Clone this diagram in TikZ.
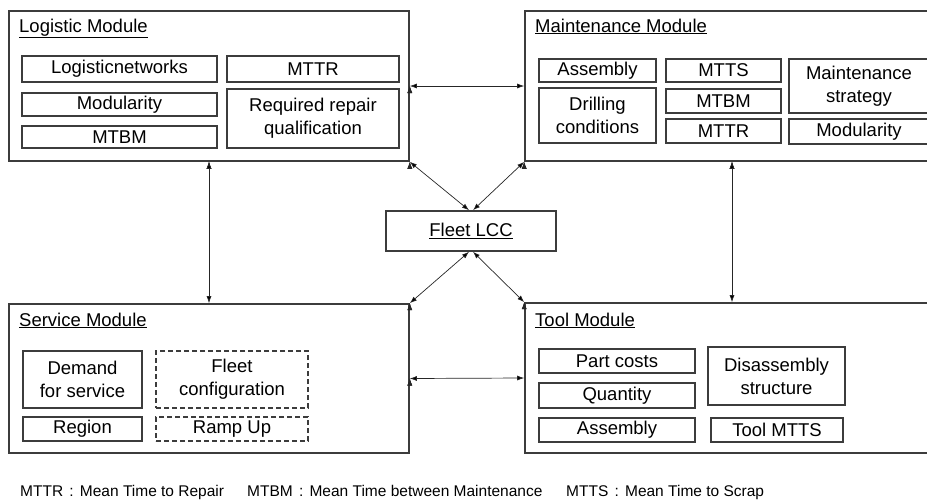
\documentclass[tikz,border=0pt]{standalone}
\usepackage{fontspec}
\setmainfont{Liberation Sans}
\usetikzlibrary{arrows.meta}
\definecolor{edgegray}{HTML}{3C3C3C}
\tikzset{
  module/.style={draw=edgegray, line width=1.6pt, inner sep=0pt},
  item/.style={draw=edgegray, line width=1.2pt, inner sep=0pt, align=center,
    font=\fontsize{18.5}{23}\selectfont},
  itemdash/.style={item, dashed, dash pattern=on 5pt off 3pt},
  title/.style={anchor=base west, inner sep=0pt, font=\fontsize{18.5}{23}\selectfont},
  note/.style={anchor=base west, inner sep=0pt, font=\fontsize{15.5}{18}\selectfont},
  link/.style={{Latex[length=7pt,width=5pt]}-{Latex[length=7pt,width=5pt]}, draw=black!85, line width=0.7pt}
}
\begin{document}
\begin{tikzpicture}[x=1pt, y=-1pt]
    \useasboundingbox (0,0) rectangle (927,499);
    \clip (0,0) rectangle (927,499);
    % modules
    \node[module, minimum width=400pt, minimum height=150pt] (log) at (209,86) {};
    \node[module, minimum width=414pt, minimum height=150pt] (mnt) at (732,86) {};
    \node[module, minimum width=400pt, minimum height=149pt] (srv) at (209,378.5) {};
    \node[module, minimum width=414pt, minimum height=150pt] (tool) at (732,378) {};
    \node[item, line width=1.6pt, minimum width=170pt, minimum height=40pt] (lcc) at (471,231) {\underline{Fleet LCC}};
    \node[title] (logt) at (19,32) {\underline{Logistic Module}};
    \node[title] (mntt) at (535,32) {\underline{Maintenance Module}};
    \node[title] (srvt) at (19,326) {\underline{Service Module}};
    \node[title] (toolt) at (535,326) {\underline{Tool Module}};
    % logistic
    \node[item, minimum width=195pt, minimum height=26pt] (lognet) at (119.5,69) {Logisticnetworks};
    \node[item, minimum width=195pt, minimum height=23pt] (logmod) at (119.5,104.5) {Modularity};
    \node[item, minimum width=195pt, minimum height=22pt] (logmtbm) at (119.5,137) {MTBM};
    \node[item, minimum width=172pt, minimum height=26pt] (logmttr) at (313,69) {MTTR};
    \node[item, minimum width=172pt, minimum height=59pt] (logqual) at (313,118.5) {Required repair\\qualification};
    % maintenance
    \node[item, minimum width=117pt, minimum height=23pt] (mntasm) at (597.5,70.5) {Assembly};
    \node[item, minimum width=117pt, minimum height=55pt] (mntdrill) at (597.5,115.5) {Drilling\\conditions};
    \node[item, minimum width=115pt, minimum height=23pt] (mntmtts) at (723.5,70.5) {MTTS};
    \node[item, minimum width=115pt, minimum height=24pt] (mntmtbm) at (723.5,101) {MTBM};
    \node[item, minimum width=115pt, minimum height=24pt] (mntmttr) at (723.5,131) {MTTR};
    \node[item, minimum width=140pt, minimum height=54pt] (mntstrat) at (859,86) {Maintenance\\strategy};
    \node[item, minimum width=140pt, minimum height=25pt] (mntmod) at (859,131.5) {Modularity};
    % service
    \node[item, minimum width=119pt, minimum height=57pt] (srvdem) at (82.5,379.5) {Demand\\for service};
    \node[item, minimum width=119pt, minimum height=24pt] (srvreg) at (82.5,429) {Region};
    \node[itemdash, minimum width=152pt, minimum height=57pt] (srvfleet) at (232,379.5) {Fleet\\configuration};
    \node[itemdash, minimum width=152pt, minimum height=24pt] (srvramp) at (232,429) {Ramp Up};
    % tool
    \node[item, minimum width=156pt, minimum height=24pt] (toolpart) at (617,361) {Part costs};
    \node[item, minimum width=156pt, minimum height=25pt] (toolqty) at (617,395.5) {Quantity};
    \node[item, minimum width=156pt, minimum height=24pt] (toolasm) at (617,430) {Assembly};
    \node[item, minimum width=137pt, minimum height=58pt] (tooldis) at (776.5,376) {Disassembly\\structure};
    \node[item, minimum width=132pt, minimum height=24pt] (toolmtts) at (777,430) {Tool MTTS};
    % links
    \path[link] (log.east) edge (mnt.west);
    \path[link] (srv.east) edge (tool.west);
    \path[link] (log.south) edge (srv.north);
    \path[link] (mnt.south) edge (tool.north);
    \path[link] (log.south east) edge ([xshift=-2pt]lcc.north);
    \path[link] (mnt.south west) edge ([xshift=2pt]lcc.north);
    \path[link] (srv.north east) edge ([xshift=-2pt]lcc.south);
    \path[link] (tool.north west) edge ([xshift=2pt]lcc.south);
    % abbreviations
    \node[note] (n1) at (20,496) {MTTR\hspace{0.4em}:\hspace{0.4em}Mean Time to Repair};
    \node[note] (n2) at (247,496) {MTBM\hspace{0.4em}:\hspace{0.4em}Mean Time between Maintenance};
    \node[note] (n3) at (566,496) {MTTS\hspace{0.4em}:\hspace{0.4em}Mean Time to Scrap};
\end{tikzpicture}
\end{document}
